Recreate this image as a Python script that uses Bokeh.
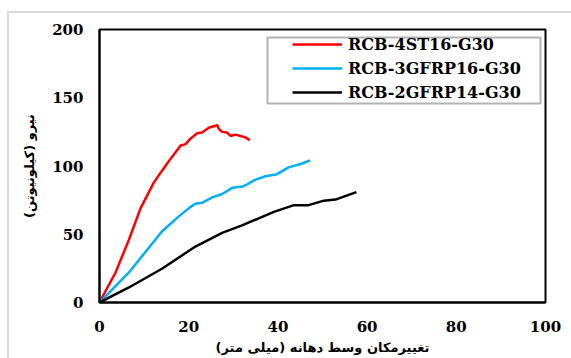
from bokeh.plotting import figure
from bokeh.models import Range1d, Legend, LegendItem, BoxAnnotation, FixedTicker
from bokeh.embed import file_html
from bokeh.resources import INLINE

# ---- data ----
red_x = [0, 3.6, 6.6, 9.2, 12.2, 15.2, 18.2, 19.3, 20.4, 21.9, 23.0, 24.5, 26.0, 26.4, 26.8, 27.5, 28.6, 29.4, 30.5, 31.6, 32.7, 33.7]
red_y = [0, 22, 46, 69, 88, 102, 115, 116, 120, 124, 124.5, 128, 129.5, 130, 127, 125, 124.5, 122, 123, 122, 121, 119]

blue_x = [0, 6.6, 14, 17.4, 20.2, 21.5, 23, 25.3, 27.5, 29.8, 32.2, 33.1, 35, 37.2, 39.8, 42.4, 45.1, 47.2]
blue_y = [0, 22, 52, 62, 69.5, 72.3, 73, 77, 79.5, 84, 85, 86.5, 90, 92.5, 94, 99, 101.5, 104]

black_x = [0, 6.6, 14, 21.5, 27.5, 32.1, 39.1, 43.6, 46.9, 50.3, 52.9, 57.6]
black_y = [0, 11, 24.7, 41, 51, 56.7, 66.4, 71.3, 71.3, 74.6, 75.4, 80.9]

series_names = ["RCB-4ST16-G30", "RCB-3GFRP16-G30", "RCB-2GFRP14-G30"]
series_colors = ["#ff0000", "#00b0f0", "#000000"]

x_ticks = [0, 20, 40, 60, 80, 100]
y_ticks = [0, 50, 100, 150, 200]

x_label = "تغییرمکان وسط دهانه (میلی متر)"
y_label = "نیرو (کیلونیوتن)"

TICK_FONT = "DejaVu Serif"
FA_FONT = "DejaVu Sans"

p = figure(width=564, height=347, output_backend="svg", toolbar_location=None,
           x_range=Range1d(0, 100), y_range=Range1d(0, 200),
           min_border_left=90, min_border_right=28, min_border_top=16, min_border_bottom=58)
p.margin = (11, 0, 0, 7)
p.styles = {"border-left": "2px solid #d9d9d9", "border-top": "2px solid #d9d9d9"}

p.xgrid.visible = False
p.ygrid.visible = False
p.outline_line_color = "black"
p.outline_line_width = 2

for ax in (p.xaxis[0], p.yaxis[0]):
    ax.axis_line_width = 2
    ax.axis_line_color = "black"
    ax.major_tick_in = 0
    ax.major_tick_out = 0
    ax.minor_tick_line_color = None
    ax.major_label_text_font = TICK_FONT
    ax.major_label_text_font_style = "bold"
    ax.major_label_text_font_size = "15px"
    ax.major_label_text_color = "black"
    ax.axis_label_text_font = FA_FONT
    ax.axis_label_text_font_style = "bold"
    ax.axis_label_text_font_size = "13px"
    ax.axis_label_text_color = "black"

p.xaxis.ticker = FixedTicker(ticks=x_ticks)
p.yaxis.ticker = FixedTicker(ticks=y_ticks)
p.xaxis.axis_label = x_label
p.yaxis.axis_label = y_label
p.xaxis.major_label_standoff = 18
p.yaxis.major_label_standoff = 16
p.xaxis.axis_label_standoff = 5
p.yaxis.axis_label_standoff = 12

xs = [red_x, blue_x, black_x]
ys = [red_y, blue_y, black_y]
items = []
for x, y, name, c in zip(xs, ys, series_names, series_colors):
    r = p.line(x, y, line_color=c, line_width=2.5)
    items.append(LegendItem(label=name, renderers=[r]))

legend = Legend(items=items, location=(193, 200), padding=0, margin=0,
                spacing=4, label_height=20, glyph_height=20, glyph_width=50,
                label_standoff=6, border_line_alpha=0, background_fill_alpha=0,
                label_text_font=TICK_FONT, label_text_font_style="bold",
                label_text_font_size="16px", label_text_color="black")
p.add_layout(legend, "center")

box = BoxAnnotation(left=256, right=529, top=22, bottom=88,
                    left_units="canvas", right_units="canvas",
                    top_units="canvas", bottom_units="canvas",
                    fill_color="white", fill_alpha=1,
                    line_color="black", line_width=2, level="underlay")
p.add_layout(box)

open("out.html", "w").write(file_html(p, INLINE))
